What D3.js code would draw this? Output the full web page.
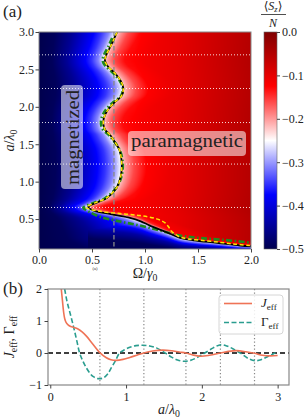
<!DOCTYPE html>
<html><head><meta charset="utf-8">
<script src="https://cdn.jsdelivr.net/npm/d3@7"></script>
<style>
body{margin:0;background:#fff}
svg{display:block}
text{font-family:"Liberation Serif","DejaVu Serif","Noto Serif","Times New Roman",Tinos,serif;fill:#222}
</style>
</head><body>
<svg id="c" width="308" height="419"></svg>
<script>
// ---------------- data ----------------
const omegaDomain=[0,2];
const aDomain=[0.1,3.0];
const omegaTicks=[0,0.5,1,1.5,2];
const aTicks=[0.5,1,1.5,2,2.5,3];
const cbTicks=[-0.5,-0.4,-0.3,-0.2,-0.1,0];
const zeroCrossings=[0.655,1.235,1.79,2.245,2.695];
const omegaRef=0.707;

// phase boundary (black solid)
const boundaryA=[3.00,2.90,2.80,2.70,2.62,2.55,2.45,2.35,2.25,2.15,2.05,1.95,1.85,1.77,1.69,1.63,1.56,1.43,1.25,1.07,0.92,0.78,0.72,0.663,0.617,0.56,0.516,0.47,0.413,0.324,0.249,0.217,0.183,0.147,0.137];
const boundaryOmega=[0.737,0.705,0.672,0.636,0.622,0.645,0.715,0.77,0.795,0.78,0.705,0.645,0.612,0.607,0.625,0.668,0.70,0.757,0.78,0.771,0.733,0.64,0.545,0.465,0.512,0.70,0.858,0.96,1.047,1.205,1.33,1.456,1.676,1.896,2.0];
// green dash-dot
const greenA=[2.92,2.80,2.70,2.62,2.55,2.45,2.35,2.25,2.15,2.05,1.95,1.85,1.77,1.69,1.63,1.56,1.43,1.25,1.07,0.92,0.78,0.72,0.649,0.60,0.53,0.467,0.413,0.347,0.28,0.247,0.22,0.185];
const greenOmega=[0.69,0.652,0.615,0.60,0.625,0.70,0.76,0.79,0.775,0.69,0.625,0.59,0.585,0.605,0.655,0.695,0.76,0.79,0.778,0.73,0.625,0.52,0.418,0.47,0.575,0.764,0.953,1.14,1.33,1.52,1.755,2.0];
// yellow dashed
const yellowA=[3.00,2.90,2.80,2.70,2.62,2.55,2.45,2.35,2.25,2.15,2.05,1.95,1.85,1.77,1.69,1.63,1.56,1.43,1.25,1.07,0.92,0.78,0.72,0.657,0.63,0.604,0.573,0.547,0.503,0.449,0.39,0.337,0.271,0.235,0.217,0.19,0.165,0.147];
const yellowOmega=[0.737,0.705,0.672,0.636,0.622,0.645,0.715,0.77,0.795,0.78,0.705,0.645,0.612,0.607,0.625,0.668,0.70,0.757,0.78,0.771,0.733,0.635,0.535,0.443,0.48,0.575,0.764,0.953,1.11,1.19,1.225,1.25,1.314,1.40,1.519,1.70,1.85,1.99];

// colour-field profiles read from the map
// across the upper branch: ratio Omega/Omega_c -> <Sz>/N
const blueRatio=[0,0.2,0.42,0.65,0.8,0.9,0.96,1.0];
const blueSz=[-0.5,-0.49,-0.45,-0.39,-0.35,-0.31,-0.27,-0.245];
const redRatio=[1.0,1.05,1.15,1.3,1.6,3.5];
const redSz=[-0.225,-0.2,-0.16,-0.13,-0.12,-0.115];
// across the lower branch: ratio a/a_c -> <Sz>/N
const blueQ=[0,0.38,0.6,0.72,0.85,0.95,1.0];
const blueQSz=[-0.5,-0.49,-0.44,-0.39,-0.33,-0.28,-0.25];
const redQ=[1.0,1.04,1.1,1.25];
const redQSz=[-0.225,-0.18,-0.14,-0.12];
// darkening of the paramagnetic side with Omega
const shiftOmega=[0,0.9,1.3,1.7,2.0];
const shiftSz=[0,0,0.018,0.045,0.065];
const cmapSz=[-0.5,-0.375,-0.25,-0.125,0];
const cmapColors=["#00004d","#0000ff","#ffffff","#ff0000","#800000"];

// panel (b)
const bXTicks=[0,1,2,3];
const bYTicks=[-1,0,1,2];
const jA=[0.145,0.16,0.175,0.19,0.21,0.235,0.27,0.31,0.36,0.42,0.48,0.56,0.65,0.74,0.80,0.87,0.96,1.05,1.15,1.235,1.35,1.48,1.60,1.70,1.79,1.88,1.98,2.10,2.245,2.35,2.46,2.58,2.695,2.80,2.90,3.00];
const jVal=[2.0,1.65,1.3,1.08,0.95,0.88,0.83,0.80,0.76,0.66,0.52,0.28,0.02,-0.15,-0.21,-0.23,-0.20,-0.14,-0.06,0.0,0.06,0.09,0.07,0.03,0.0,-0.06,-0.10,-0.07,0.0,0.05,0.075,0.04,-0.01,-0.07,-0.09,-0.08];
const gA=[0.19,0.22,0.255,0.29,0.321,0.355,0.387,0.43,0.475,0.52,0.563,0.63,0.70,0.76,0.806,0.86,0.915,0.98,1.05,1.13,1.22,1.31,1.40,1.47,1.53,1.60,1.68,1.77,1.85,1.93,2.00,2.04,2.15,2.25,2.33,2.42,2.52,2.61,2.70,2.78,2.87,2.94,3.00];
const gVal=[2.0,1.62,1.30,0.98,0.68,0.33,0.0,-0.25,-0.46,-0.62,-0.73,-0.80,-0.78,-0.65,-0.46,-0.24,0.0,0.10,0.18,0.23,0.24,0.22,0.16,0.07,-0.02,-0.13,-0.22,-0.26,-0.23,-0.15,-0.05,0.0,0.16,0.26,0.22,0.12,-0.02,-0.17,-0.24,-0.21,-0.11,-0.03,0.05];

// ---------------- helpers ----------------
const FONT='"Liberation Serif","DejaVu Serif","Noto Serif","Times New Roman",Tinos,serif';
const svg=d3.select("#c");
function mathText(sel,parts,size){
  let prevSub=false;
  parts.forEach(p=>{
    const ts=sel.append("tspan").text(p.t);
    if(p.it) ts.attr("font-style","italic");
    if(p.sub){ts.attr("font-size",size*0.7); if(!prevSub) ts.attr("dy",size*0.22);}
    else if(prevSub){ts.attr("dy",-size*0.22);}
    prevSub=!!p.sub;
  });
  return sel;
}
const cmapRGB=cmapColors.map(c=>d3.rgb(c));
function cmap(v){
  v=Math.max(-0.5,Math.min(0,v));
  let k=Math.min(3,Math.floor((v+0.5)/0.125));
  const t=(v-cmapSz[k])/0.125;
  const a=cmapRGB[k],b=cmapRGB[k+1];
  return [a.r+(b.r-a.r)*t,a.g+(b.g-a.g)*t,a.b+(b.b-a.b)*t];
}
const zip=(A,B)=>A.map((v,i)=>[v,B[i]]);

// ---------------- panel (a) ----------------
const xA=d3.scaleLinear().domain(omegaDomain).range([39,251]);
const yA=d3.scaleLinear().domain(aDomain).range([249,32]);
const defs=svg.append("defs");
defs.append("clipPath").attr("id","clipA").append("rect")
  .attr("x",39).attr("y",32).attr("width",212).attr("height",217);
defs.append("clipPath").attr("id","clipB").append("rect")
  .attr("x",48).attr("y",289).attr("width",241).attr("height",96);

const gAp=svg.append("g").attr("clip-path","url(#clipA)");
const heat=gAp.append("image").attr("x",39).attr("y",32).attr("width",212).attr("height",217)
  .attr("preserveAspectRatio","none");

const lineA=d3.line().x(d=>xA(d[1])).y(d=>yA(d[0])).curve(d3.curveCatmullRom.alpha(0.5));

gAp.selectAll(".hl").data(zeroCrossings).enter().append("line")
  .attr("x1",39).attr("x2",251).attr("y1",d=>yA(d)).attr("y2",d=>yA(d))
  .attr("stroke","#fff").attr("stroke-opacity",0.85).attr("stroke-width",1).attr("stroke-dasharray","1,2");
gAp.append("line").attr("x1",xA(omegaRef)).attr("x2",xA(omegaRef)).attr("y1",32).attr("y2",249)
  .attr("stroke","#888").attr("stroke-width",1.3).attr("stroke-dasharray","4.5,2.5");

gAp.append("path").attr("d",lineA(zip(greenA,greenOmega))).attr("fill","none")
  .attr("stroke","#1f8a1f").attr("stroke-width",2.6).attr("stroke-dasharray","6,2.5,1.5,2.5");
const bPath=gAp.append("path").attr("d",lineA(zip(boundaryA,boundaryOmega))).attr("fill","none")
  .attr("stroke","#000").attr("stroke-width",1.8);
gAp.append("path").attr("d",lineA(zip(yellowA,yellowOmega))).attr("fill","none")
  .attr("stroke","#ffe600").attr("stroke-width",1.5).attr("stroke-dasharray","4,2.5");

// heat field shaped by the drawn boundary
(function(){
  const node=bPath.node(),L=node.getTotalLength();
  const pts=[];
  for(let s=0;s<=L;s+=0.5){const p=node.getPointAtLength(s);pts.push([yA.invert(p.y),xA.invert(p.x)]);}
  let tipI=0;
  pts.forEach((p,i)=>{if(p[0]<1.0&&(pts[tipI][0]>=1.0||p[1]<pts[tipI][1]))tipI=i;});
  const tipA=pts[tipI][0],tipOm=pts[tipI][1];
  const srt=pts.slice().sort((u,v)=>u[0]-v[0]);
  const dom=[],ran=[];
  srt.forEach(p=>{if(!dom.length||p[0]>dom[dom.length-1]+1e-6){dom.push(p[0]);ran.push(p[1]);}});
  const omegaC=d3.scaleLinear().domain(dom).range(ran);
  const low=pts.slice(tipI).sort((u,v)=>u[1]-v[1]);
  const ld=[],lr=[];
  low.forEach(p=>{if(!ld.length||p[1]>ld[ld.length-1]+1e-6){ld.push(p[1]);lr.push(p[0]);}});
  const aC=d3.scaleLinear().domain(ld).range(lr);
  const fBlue=d3.scaleLinear().domain(blueRatio).range(blueSz).clamp(true);
  const fRed=d3.scaleLinear().domain(redRatio).range(redSz).clamp(true);
  const fQb=d3.scaleLinear().domain(blueQ).range(blueQSz).clamp(true);
  const fQr=d3.scaleLinear().domain(redQ).range(redQSz).clamp(true);
  const fShift=d3.scaleLinear().domain(shiftOmega).range(shiftSz).clamp(true);
  const W=212,H=217;
  const cv=document.createElement("canvas");cv.width=W;cv.height=H;
  const ctx=cv.getContext("2d");const img=ctx.createImageData(W,H);
  for(let j=0;j<H;j++){
    const a=yA.invert(32+j+0.5);
    const oc=omegaC(a);
    for(let i=0;i<W;i++){
      const om=xA.invert(39+i+0.5);
      const r=om/oc;
      const useQ=(om>tipOm&&a<tipA);
      const q=useQ?a/aC(om):null;
      let v;
      if(r<1){
        v=fBlue(r);
        if(useQ&&q<1) v=Math.min(v,fQb(q));
      } else {
        v=fRed(r);
        if(useQ&&q>1) v=Math.max(v,fQr(q));
        v+=fShift(om)*Math.min(1,(r-1)/0.3);
      }
      const c=cmap(v);const k=(j*W+i)*4;
      img.data[k]=c[0];img.data[k+1]=c[1];img.data[k+2]=c[2];img.data[k+3]=255;
    }
  }
  ctx.putImageData(img,0,0);
  heat.attr("href",cv.toDataURL());
})();

// region labels
svg.append("rect").attr("x",61).attr("y",85).attr("width",22).attr("height",104).attr("rx",4)
  .attr("fill","#fff").attr("fill-opacity",0.55);
svg.append("text").attr("transform","translate(79,137.5) rotate(-90)").attr("text-anchor","middle")
  .attr("font-size",19).attr("textLength",95).attr("lengthAdjust","spacingAndGlyphs").text("magnetized");
svg.append("rect").attr("x",128).attr("y",131).attr("width",118).attr("height",25).attr("rx",4)
  .attr("fill","#fff").attr("fill-opacity",0.55);
svg.append("text").attr("x",187).attr("y",147).attr("text-anchor","middle")
  .attr("font-size",19).attr("textLength",112).attr("lengthAdjust","spacingAndGlyphs").text("paramagnetic");

// frame & axes
svg.append("rect").attr("x",39).attr("y",32).attr("width",212).attr("height",217)
  .attr("fill","none").attr("stroke","#888").attr("stroke-width",1);
function styleAxis(g,fs){
  g.attr("font-family",FONT);
  g.select(".domain").remove();
  g.selectAll(".tick line").attr("stroke","#444");
  g.selectAll(".tick text").attr("font-size",fs).attr("fill","#333");
}
svg.append("g").attr("transform","translate(0,249)")
  .call(d3.axisBottom(xA).tickValues(omegaTicks).tickFormat(d3.format(".1f")).tickSize(3.5).tickPadding(2.5))
  .call(g=>styleAxis(g,12));
svg.append("g").attr("transform","translate(39,0)")
  .call(d3.axisLeft(yA).tickValues(aTicks).tickFormat(d3.format(".1f")).tickSize(3.5).tickPadding(1.5))
  .call(g=>styleAxis(g,12));

mathText(svg.append("text").attr("x",145).attr("y",278).attr("text-anchor","middle").attr("font-size",14),
  [{t:"Ω/"},{t:"γ",it:true},{t:"0",sub:true}],14);
mathText(svg.append("text").attr("transform","translate(14,140.5) rotate(-90)").attr("text-anchor","middle").attr("font-size",14),
  [{t:"a",it:true},{t:"/"},{t:"λ",it:true},{t:"0",sub:true}],14);
svg.append("text").attr("x",95).attr("y",270).attr("text-anchor","middle").attr("font-size",4.5).text("(a)");
svg.append("text").attr("x",3).attr("y",17).attr("font-size",17).text("(a)");

// colorbar
const cb=d3.scaleLinear().domain([-0.5,0]).range([249,32]);
const grad=defs.append("linearGradient").attr("id","cbg").attr("x1",0).attr("x2",0).attr("y1",1).attr("y2",0);
cmapSz.forEach((v,i)=>grad.append("stop").attr("offset",(v+0.5)/0.5).attr("stop-color",cmapColors[i]));
svg.append("rect").attr("x",264).attr("y",32).attr("width",13).attr("height",217)
  .attr("fill","url(#cbg)").attr("stroke","#666").attr("stroke-width",0.6);
svg.append("g").attr("transform","translate(277,0)")
  .call(d3.axisRight(cb).tickValues(cbTicks).tickFormat(d3.format(".1f")).tickSize(3).tickPadding(2))
  .call(g=>styleAxis(g,12));
mathText(svg.append("text").attr("x",273).attr("y",9.5).attr("text-anchor","middle").attr("font-size",12),
  [{t:"⟨"},{t:"S",it:true},{t:"z",it:true,sub:true},{t:"⟩"}],12);
svg.append("line").attr("x1",261).attr("x2",286).attr("y1",14.5).attr("y2",14.5).attr("stroke","#222").attr("stroke-width",0.8);
svg.append("text").attr("x",273).attr("y",27).attr("text-anchor","middle").attr("font-size",12)
  .attr("font-style","italic").text("N");

// ---------------- panel (b) ----------------
const xB=d3.scaleLinear().domain([-0.03,3.15]).range([48,289]);
const yB=d3.scaleLinear().domain([-1,2]).range([385,289]);
const gBp=svg.append("g").attr("clip-path","url(#clipB)");
gBp.selectAll(".vl").data(zeroCrossings).enter().append("line")
  .attr("x1",d=>xB(d)).attr("x2",d=>xB(d)).attr("y1",289).attr("y2",385)
  .attr("stroke","#888").attr("stroke-width",1.2).attr("stroke-dasharray","1.2,2.3");
gBp.append("line").attr("x1",48).attr("x2",289).attr("y1",yB(0)).attr("y2",yB(0))
  .attr("stroke","#000").attr("stroke-width",1.5).attr("stroke-dasharray","5,3");
const lineB=d3.line().x(d=>xB(d[0])).y(d=>yB(d[1])).curve(d3.curveCatmullRom.alpha(0.5));
const jColor="#ef7356",gColor="#2a9d8f";
gBp.append("path").attr("d",lineB(zip(gA,gVal))).attr("fill","none")
  .attr("stroke",gColor).attr("stroke-width",1.6).attr("stroke-dasharray","5,2.5");
gBp.append("path").attr("d",lineB(zip(jA,jVal))).attr("fill","none")
  .attr("stroke",jColor).attr("stroke-width",1.6);

svg.append("rect").attr("x",48).attr("y",289).attr("width",241).attr("height",96)
  .attr("fill","none").attr("stroke","#888").attr("stroke-width",1.2);
svg.append("g").attr("transform","translate(0,385)")
  .call(d3.axisBottom(xB).tickValues(bXTicks).tickFormat(d3.format("d")).tickSize(3.5).tickPadding(3.5))
  .call(g=>styleAxis(g,12));
svg.append("g").attr("transform","translate(48,0)")
  .call(d3.axisLeft(yB).tickValues(bYTicks).tickFormat(d3.format("d")).tickSize(3.5).tickPadding(2.5))
  .call(g=>styleAxis(g,12));

// legend
svg.append("rect").attr("x",219).attr("y",295).attr("width",64).attr("height",39).attr("rx",3)
  .attr("fill","#fff").attr("fill-opacity",0.85).attr("stroke","#ccc").attr("stroke-width",0.8);
svg.append("line").attr("x1",224).attr("x2",252).attr("y1",303.5).attr("y2",303.5)
  .attr("stroke",jColor).attr("stroke-width",1.6);
svg.append("line").attr("x1",224).attr("x2",252).attr("y1",322.5).attr("y2",322.5)
  .attr("stroke",gColor).attr("stroke-width",1.6).attr("stroke-dasharray","5,2.5");
mathText(svg.append("text").attr("x",261).attr("y",307).attr("font-size",13),
  [{t:"J",it:true},{t:"eff",sub:true}],13);
mathText(svg.append("text").attr("x",261).attr("y",326).attr("font-size",13),
  [{t:"Γ"},{t:"eff",sub:true}],13);

mathText(svg.append("text").attr("x",169).attr("y",414).attr("text-anchor","middle").attr("font-size",14),
  [{t:"a",it:true},{t:"/"},{t:"λ",it:true},{t:"0",sub:true}],14);
mathText(svg.append("text").attr("transform","translate(14,337) rotate(-90)").attr("text-anchor","middle").attr("font-size",14),
  [{t:"J",it:true},{t:"eff",sub:true},{t:", Γ"},{t:"eff",sub:true}],14);
svg.append("text").attr("x",3).attr("y",294).attr("font-size",17).text("(b)");
</script>
</body></html>
